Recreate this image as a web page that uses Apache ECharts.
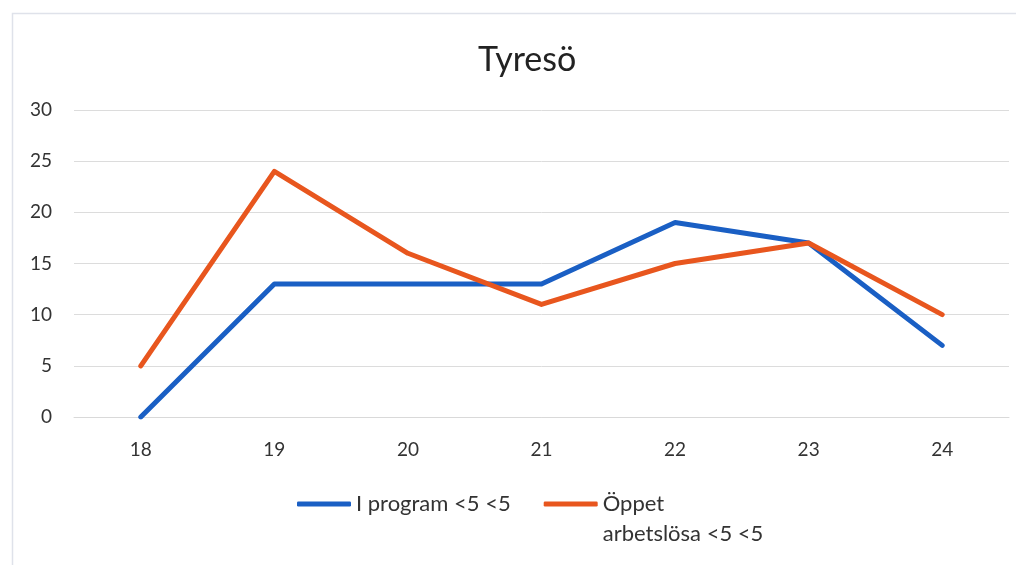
<!DOCTYPE html>
<html>
<head>
<meta charset="utf-8">
<script src="https://cdn.jsdelivr.net/npm/echarts@6/dist/echarts.min.js"></script>
<style>html,body{margin:0;padding:0;background:#fff}#c{width:1016px;height:565px}</style>
</head>
<body>
<div id="c"></div>
<script>
const title = 'Tyresö';
const categories = ['18', '19', '20', '21', '22', '23', '24'];
const seriesNames = ['I program <5 <5', 'Öppet arbetslösa <5 <5'];
const iProgram = [0, 13, 13, 13, 19, 17, 7];
const oppetArbetslosa = [5, 24, 16, 11, 15, 17, 10];
const yTicks = { min: 0, max: 30, interval: 5 };

const font = 'Lato, "Open Sans", sans-serif';
const chart = echarts.init(document.getElementById('c'), null, { renderer: 'canvas' });
chart.setOption({
  animation: false,
  backgroundColor: '#fff',
  graphic: [{
    type: 'rect', left: 10, top: 11, silent: true,
    shape: { width: 1100, height: 700 },
    style: { fill: 'none', stroke: '#dfe2ea', lineWidth: 1.5 }
  }],
  title: {
    text: title, left: 473, top: 38,
    textStyle: { fontFamily: font, fontSize: 34, fontWeight: 'normal', color: '#222' }
  },
  legend: {
    left: 292, top: 454, padding: 5, itemWidth: 54, itemHeight: 5, itemGap: 33, icon: 'roundRect',
    textStyle: { fontFamily: font, fontSize: 22, color: '#333', lineHeight: 30 },
    formatter: function (n) { return n === seriesNames[1] ? ' \nÖppet\narbetslösa <5 <5' : n; },
    data: [seriesNames[0], seriesNames[1]]
  },
  grid: { left: 74, right: 7, top: 110, bottom: 148, containLabel: false },
  xAxis: {
    type: 'category', data: categories, boundaryGap: true,
    axisLine: { show: true, lineStyle: { color: '#d9d9d9', width: 1 } },
    axisTick: { show: false },
    axisLabel: { fontFamily: font, fontSize: 19, color: '#333', margin: 23 }
  },
  yAxis: {
    type: 'value', min: yTicks.min, max: yTicks.max, interval: yTicks.interval,
    axisLine: { show: false }, axisTick: { show: false },
    splitLine: { lineStyle: { color: '#dcdcdc', width: 1 } },
    axisLabel: { fontFamily: font, fontSize: 19, color: '#333', margin: 22 }
  },
  series: [
    {
      name: seriesNames[0], type: 'line', data: iProgram, symbol: 'none',
      itemStyle: { color: '#1a5fc4' },
      lineStyle: { width: 5, color: '#1a5fc4', cap: 'round', join: 'round' }
    },
    {
      name: seriesNames[1], type: 'line', data: oppetArbetslosa, symbol: 'none',
      itemStyle: { color: '#e8561e' },
      lineStyle: { width: 5, color: '#e8561e', cap: 'round', join: 'round' }
    }
  ]
});
</script>
</body>
</html>
